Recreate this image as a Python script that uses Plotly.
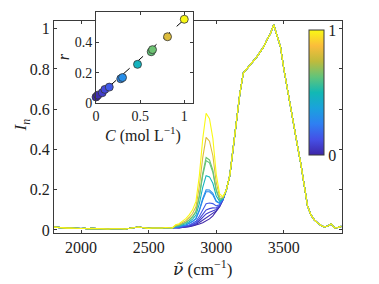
import plotly.graph_objects as go

# ---------------- data ----------------
# concentration of each sample (mol/L) and fitted ratio r (inset)
conc = [0.0, 0.02, 0.07, 0.10, 0.15, 0.28, 0.30, 0.47, 0.625, 0.64, 0.81, 1.0]
ratio = [0.040, 0.052, 0.068, 0.090, 0.105, 0.160, 0.168, 0.255, 0.338, 0.352, 0.437, 0.552]
fit_c = [0.0, 1.0]
fit_r = [0.032, 0.550]

# shared low-wavenumber baseline (1800-2675 cm-1, step 25)
wn_low = list(range(1800, 2700, 25))
base_low = [0.014, 0.012, 0.010, 0.011, 0.009, 0.010, 0.008, 0.009, 0.007, 0.008,
            0.006, 0.008, 0.007, 0.009, 0.006, 0.007, 0.005, 0.006, 0.007, 0.005,
            0.006, 0.005, 0.007, 0.008, 0.010, 0.015, 0.012, 0.009, 0.008, 0.010,
            0.009, 0.011, 0.010, 0.012, 0.011, 0.010]

# C-H stretch region, one array per sample (2700-3075 cm-1, step 25)
wn_ch = list(range(2700, 3100, 25))
ch_region = [
    [0.010, 0.010, 0.012, 0.013, 0.016, 0.020, 0.024, 0.030, 0.036, 0.045, 0.055, 0.070, 0.090, 0.115, 0.150, 0.200],
    [0.010, 0.011, 0.013, 0.014, 0.018, 0.022, 0.027, 0.037, 0.048, 0.060, 0.069, 0.081, 0.095, 0.117, 0.150, 0.200],
    [0.011, 0.011, 0.014, 0.016, 0.020, 0.025, 0.032, 0.046, 0.063, 0.080, 0.088, 0.095, 0.102, 0.119, 0.151, 0.200],
    [0.012, 0.012, 0.015, 0.017, 0.022, 0.028, 0.036, 0.055, 0.079, 0.100, 0.106, 0.110, 0.109, 0.122, 0.152, 0.200],
    [0.013, 0.013, 0.017, 0.020, 0.025, 0.033, 0.043, 0.068, 0.102, 0.130, 0.134, 0.131, 0.120, 0.125, 0.153, 0.200],
    [0.014, 0.016, 0.021, 0.025, 0.032, 0.042, 0.056, 0.095, 0.149, 0.190, 0.190, 0.174, 0.141, 0.132, 0.154, 0.200],
    [0.015, 0.016, 0.021, 0.025, 0.033, 0.043, 0.058, 0.100, 0.157, 0.200, 0.199, 0.182, 0.144, 0.134, 0.155, 0.200],
    [0.017, 0.019, 0.026, 0.031, 0.041, 0.054, 0.074, 0.131, 0.212, 0.270, 0.264, 0.232, 0.169, 0.142, 0.157, 0.200],
    [0.019, 0.022, 0.030, 0.037, 0.049, 0.065, 0.090, 0.165, 0.270, 0.345, 0.334, 0.286, 0.195, 0.151, 0.159, 0.200],
    [0.020, 0.023, 0.031, 0.038, 0.051, 0.067, 0.093, 0.172, 0.282, 0.360, 0.348, 0.297, 0.200, 0.153, 0.160, 0.200],
    [0.023, 0.027, 0.037, 0.046, 0.062, 0.082, 0.115, 0.217, 0.360, 0.460, 0.441, 0.369, 0.235, 0.165, 0.163, 0.200],
    [0.026, 0.031, 0.044, 0.056, 0.075, 0.100, 0.142, 0.271, 0.453, 0.580, 0.553, 0.455, 0.277, 0.179, 0.166, 0.200],
]

# shared O-H stretch band (3100-3925 cm-1, step 25)
wn_oh = list(range(3100, 3950, 25))
oh_band = [0.27, 0.40, 0.53, 0.68, 0.78, 0.80, 0.82, 0.835, 0.86, 0.885,
           0.91, 0.945, 0.975, 1.02, 0.97, 0.91, 0.80, 0.70, 0.61, 0.52,
           0.42, 0.33, 0.22, 0.12, 0.075, 0.05, 0.035, 0.022, 0.015, 0.02,
           0.03, 0.01, 0.012, 0.018]

x_ticks = [2000, 2500, 3000, 3500]
y_ticks = [0, 0.2, 0.4, 0.6, 0.8, 1]
inset_x_ticks = [0, 0.5, 1]
inset_y_ticks = [0, 0.2, 0.4, 0.6]

# ---------------- style ----------------
parula = [
    [0.000, "#3e26a8"], [0.125, "#4550e6"], [0.250, "#2e80f2"],
    [0.375, "#1aa2dc"], [0.500, "#12b8b4"], [0.625, "#62c47a"],
    [0.750, "#bfbb3c"], [0.875, "#fbbd3b"], [1.000, "#f9f914"],
]


def hex2rgb(h):
    return tuple(int(h[i:i + 2], 16) for i in (1, 3, 5))


def cmap(v):
    for (p0, c0), (p1, c1) in zip(parula[:-1], parula[1:]):
        if p0 <= v <= p1:
            t = (v - p0) / (p1 - p0) if p1 > p0 else 0
            a, b = hex2rgb(c0), hex2rgb(c1)
            return "rgb(%d,%d,%d)" % tuple(round(a[i] + (b[i] - a[i]) * t) for i in range(3))
    return parula[-1][1]


FONT = "Liberation Serif"
AX = "#3a3a3a"
TXT = "#222222"

fig = go.Figure()

wn_all = wn_low + wn_ch + wn_oh
for c, ch in zip(conc, ch_region):
    fig.add_trace(go.Scatter(
        x=wn_all, y=base_low + ch + oh_band, mode="lines",
        line=dict(color=cmap(c), width=1.1), showlegend=False,
        xaxis="x", yaxis="y"))

# inset
fig.add_trace(go.Scatter(
    x=fit_c, y=fit_r, mode="lines", line=dict(color="black", width=1, dash="dash"),
    showlegend=False, xaxis="x2", yaxis="y2"))
fig.add_trace(go.Scatter(
    x=conc, y=ratio, mode="markers", cliponaxis=False,
    marker=dict(size=8, color=conc, colorscale=parula, cmin=0, cmax=1,
                line=dict(color="#333333", width=0.8),
                showscale=True,
                colorbar=dict(x=0.885, xanchor="left", xref="paper",
                              y=0.636, yanchor="middle", len=0.566,
                              thickness=15, thicknessmode="pixels",
                              xpad=0, ypad=0, outlinecolor=AX, outlinewidth=1,
                              tickvals=[0, 1], ticktext=["0", "1"], ticks="",
                              tickfont=dict(family=FONT, size=16, color=TXT))),
    showlegend=False, xaxis="x2", yaxis="y2"))

axis_common = dict(showline=True, linecolor=AX, linewidth=1, mirror="allticks",
                   ticks="inside", ticklen=3, tickcolor=AX, showgrid=False,
                   zeroline=False, automargin=False)

# the page adds an 8 px body margin, so the figure is 8 px smaller
fig.update_layout(
    width=371, height=276,
    margin=dict(l=46, r=37, t=4, b=51, autoexpand=False),
    paper_bgcolor="white", plot_bgcolor="white",
    font=dict(family=FONT, color=TXT),
    xaxis=dict(domain=[0, 1], range=[1800, 3930], tickvals=x_ticks,
               tickfont=dict(family=FONT, size=16, color=TXT),
               anchor="y", **axis_common),
    yaxis=dict(domain=[0, 0.9615], range=[-0.015, 1.041], tickvals=y_ticks,
               ticktext=["0", "0.2", "0.4", "0.6", "0.8", "1"],
               tickfont=dict(family=FONT, size=16, color=TXT),
               anchor="x", **axis_common),
    xaxis2=dict(domain=[0.146, 0.483], range=[0, 1.1], tickvals=inset_x_ticks,
                ticktext=["0", "0.5", "1"],
                tickfont=dict(family=FONT, size=14, color=TXT),
                anchor="y2", **axis_common),
    yaxis2=dict(domain=[0.588, 1.0], range=[0, 0.6], tickvals=inset_y_ticks,
                ticktext=["0", "0.2", "0.4", "0.6"],
                tickfont=dict(family=FONT, size=14, color=TXT),
                anchor="x2", **axis_common),
)

# axis titles placed as annotations (paper coords of the plot area)
fig.add_annotation(text="<i><span style=\"font-family:'DejaVu Serif'\">ν̃</span></i> (cm<sup>−1</sup>)",
                   xref="paper", yref="paper", x=0.517, y=-0.158,
                   xanchor="center", yanchor="middle", showarrow=False,
                   font=dict(family=FONT, size=17, color=TXT))
fig.add_annotation(text="<i>I<sub>n</sub></i>", textangle=-90,
                   xref="paper", yref="paper", x=-0.112, y=0.49,
                   xanchor="center", yanchor="middle", showarrow=False,
                   font=dict(family=FONT, size=17, color=TXT))
fig.add_annotation(text="<i>C</i> (mol L<sup>−1</sup>)",
                   xref="paper", yref="paper", x=0.31, y=0.445,
                   xanchor="center", yanchor="middle", showarrow=False,
                   font=dict(family=FONT, size=16, color=TXT))
fig.add_annotation(text="<i>r</i>", textangle=-90,
                   xref="paper", yref="paper", x=0.031, y=0.8,
                   xanchor="center", yanchor="middle", showarrow=False,
                   font=dict(family=FONT, size=16, color=TXT))

# inset background box so it sits above the spectra region
fig.add_shape(type="rect", xref="x2 domain", yref="y2 domain", x0=0, x1=1, y0=0, y1=1,
              fillcolor="white", line=dict(width=0), layer="below")

fig.write_html("out.html")
